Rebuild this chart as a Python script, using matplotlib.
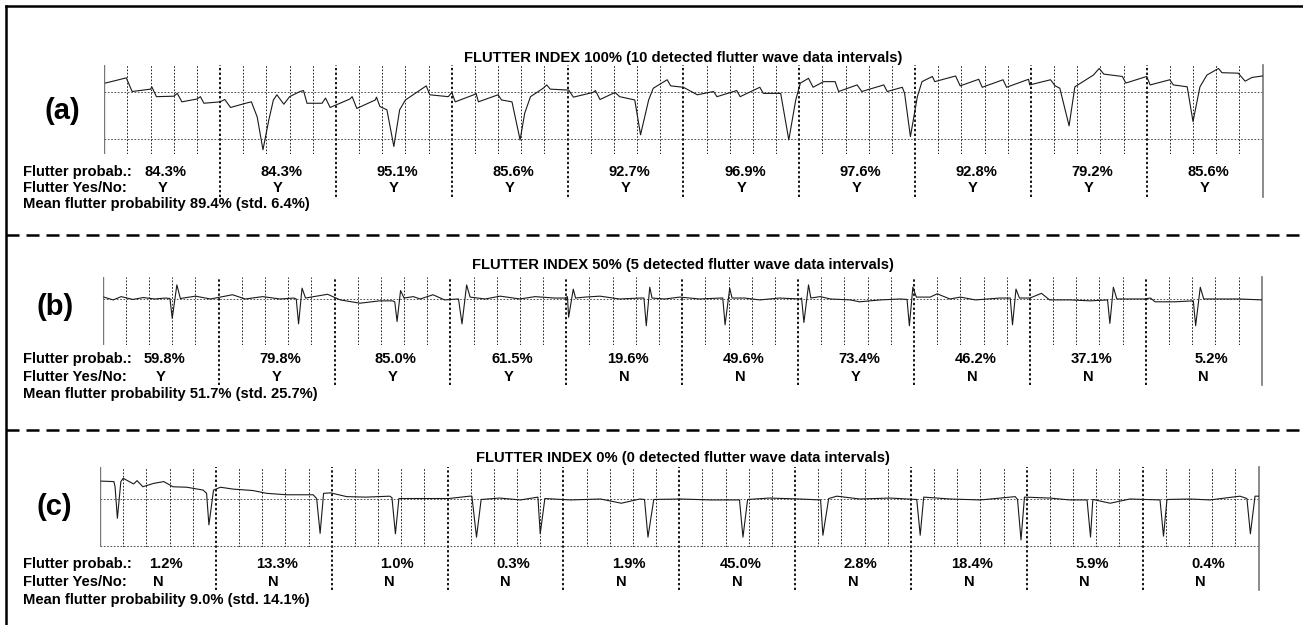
import matplotlib
matplotlib.use("Agg")
import numpy as np
import matplotlib.pyplot as plt
from matplotlib.lines import Line2D
from matplotlib.transforms import blended_transform_factory

plt.rcParams['font.family'] = ['Liberation Sans', 'DejaVu Sans']
plt.rcParams['font.weight'] = 'bold'

# ---- data: (a) flutter index 100% ----
a_time = [0.01, 0.19, 0.24, 0.40, 0.41, 0.45, 0.60, 0.63, 0.67, 0.80, 0.83, 0.86,
          1.00, 1.04, 1.09, 1.22, 1.27, 1.32, 1.37, 1.42, 1.46, 1.49, 1.55, 1.60,
          1.69, 1.72, 1.75, 1.88, 1.91, 1.95, 2.12, 2.14, 2.18, 2.34, 2.35, 2.38,
          2.44, 2.50, 2.55, 2.60, 2.78, 2.81, 2.97, 3.00, 3.03, 3.19, 3.21, 3.23,
          3.40, 3.43, 3.52, 3.59, 3.63, 3.68, 3.79, 3.82, 3.85, 4.01, 4.05, 4.22,
          4.24, 4.28, 4.41, 4.45, 4.58, 4.63, 4.70, 4.74, 4.86, 4.89, 5.00, 5.12,
          5.26, 5.29, 5.46, 5.49, 5.66, 5.69, 5.84, 5.91, 5.97, 6.01, 6.08, 6.12,
          6.21, 6.31, 6.34, 6.50, 6.54, 6.73, 6.76, 6.89, 6.91, 6.96, 7.02, 7.06,
          7.15, 7.17, 7.35, 7.39, 7.55, 7.58, 7.76, 7.79, 7.98, 7.99, 8.17, 8.21,
          8.25, 8.33, 8.38, 8.54, 8.59, 8.63, 8.79, 8.82, 9.00, 9.03, 9.20, 9.23,
          9.35, 9.40, 9.46, 9.52, 9.62, 9.65, 9.79, 9.85, 9.91, 10.0]
a_amp = [0.19, 0.30, 0.01, 0.06, 0.11, -0.10, -0.09, -0.03, -0.21, -0.15, -0.10, -0.24,
         -0.21, -0.16, -0.33, -0.24, -0.21, -0.53, -1.23, -0.60, -0.17, -0.06, -0.26, -0.10,
         0.01, 0.03, -0.24, -0.24, -0.13, -0.33, -0.15, -0.10, -0.35, -0.17, -0.11, -0.31,
         -0.38, -1.16, -0.38, -0.17, 0.13, -0.06, -0.10, -0.01, -0.21, -0.06, -0.03, -0.21,
         -0.06, -0.17, -0.21, -1.02, -0.45, -0.10, 0.08, 0.15, 0.06, 0.04, -0.11, -0.01,
         0.03, -0.16, -0.01, -0.10, -0.17, -0.91, -0.17, 0.08, 0.26, 0.13, 0.10, -0.06,
         0.01, -0.10, 0.03, -0.10, 0.10, -0.03, -0.03, -1.02, -0.17, 0.19, 0.29, 0.10,
         0.22, 0.22, 0.01, 0.15, 0.01, 0.15, 0.01, 0.10, -0.03, -0.95, -0.10, 0.22,
         0.33, 0.22, 0.34, 0.13, 0.27, 0.10, 0.26, 0.10, 0.27, 0.15, 0.26, 0.13,
         0.08, -0.72, 0.11, 0.36, 0.50, 0.38, 0.33, 0.19, 0.33, 0.15, 0.26, 0.15,
         0.11, -0.63, 0.11, 0.36, 0.50, 0.41, 0.40, 0.23, 0.31, 0.34]

# ---- data: (b) flutter index 50% ----
b_time = [0.01, 0.09, 0.16, 0.26, 0.35, 0.45, 0.54, 0.58, 0.60, 0.64, 0.67, 0.80,
          0.93, 1.12, 1.23, 1.38, 1.53, 1.65, 1.67, 1.69, 1.72, 1.75, 1.94, 2.05,
          2.22, 2.39, 2.50, 2.52, 2.54, 2.57, 2.60, 2.68, 2.74, 2.85, 2.95, 3.06,
          3.07, 3.10, 3.14, 3.17, 3.30, 3.43, 3.60, 3.73, 3.90, 3.99, 4.01, 4.02,
          4.06, 4.08, 4.16, 4.29, 4.46, 4.64, 4.67, 4.69, 4.72, 4.74, 4.85, 4.98,
          5.15, 5.33, 5.35, 5.37, 5.41, 5.43, 5.54, 5.67, 5.84, 6.02, 6.03, 6.05,
          6.09, 6.11, 6.19, 6.28, 6.45, 6.53, 6.71, 6.88, 6.94, 6.96, 6.99, 7.02,
          7.14, 7.20, 7.31, 7.40, 7.53, 7.74, 7.83, 7.85, 7.88, 7.91, 8.00, 8.10,
          8.17, 8.35, 8.52, 8.67, 8.69, 8.72, 8.75, 8.86, 8.99, 9.04, 9.08, 9.25,
          9.41, 9.43, 9.47, 9.50, 9.64, 9.81, 10.0]
b_amp = [0.04, -0.02, 0.05, -0.01, 0.03, 0.00, 0.02, 0.01, -0.41, 0.30, 0.01, 0.06,
         0.00, 0.09, 0.00, 0.05, 0.00, 0.02, 0.00, -0.53, 0.23, 0.02, 0.10, -0.02,
         -0.09, -0.04, -0.04, -0.06, -0.48, 0.18, 0.02, 0.05, 0.00, 0.09, -0.02, 0.00,
         0.00, -0.53, 0.30, 0.04, 0.00, 0.06, 0.00, 0.05, 0.02, 0.02, 0.05, -0.39,
         0.21, 0.02, 0.04, 0.06, 0.00, 0.02, 0.02, -0.57, 0.25, 0.02, 0.00, 0.04,
         0.00, 0.02, 0.02, -0.55, 0.23, 0.02, 0.02, -0.02, 0.02, 0.00, 0.02, -0.50,
         0.30, 0.02, 0.05, 0.00, -0.02, -0.06, -0.02, 0.00, -0.01, -0.57, 0.25, 0.04,
         0.04, 0.11, 0.00, 0.04, -0.02, 0.02, 0.02, -0.55, 0.21, 0.02, 0.02, 0.12,
         -0.02, -0.02, -0.04, -0.02, -0.52, 0.25, 0.00, 0.00, 0.00, 0.02, -0.06, -0.06,
         -0.04, -0.57, 0.25, 0.00, 0.00, 0.00, -0.02]

# ---- data: (c) flutter index 0% ----
c_time = [0.01, 0.12, 0.13, 0.15, 0.18, 0.20, 0.29, 0.32, 0.37, 0.46, 0.55, 0.63,
          0.75, 0.89, 0.92, 0.94, 0.98, 1.04, 1.15, 1.32, 1.44, 1.61, 1.84, 1.87,
          1.90, 1.93, 1.99, 2.13, 2.30, 2.50, 2.52, 2.55, 2.58, 2.73, 3.01, 3.19,
          3.21, 3.25, 3.29, 3.45, 3.63, 3.78, 3.80, 3.84, 4.06, 4.32, 4.50, 4.66,
          4.70, 4.73, 4.78, 5.01, 5.27, 5.52, 5.55, 5.59, 5.78, 6.04, 6.22, 6.24,
          6.29, 6.36, 6.56, 6.82, 7.05, 7.08, 7.11, 7.34, 7.60, 7.90, 7.92, 7.95,
          7.98, 8.20, 8.37, 8.52, 8.55, 8.57, 8.72, 8.89, 9.15, 9.18, 9.21, 9.41,
          9.58, 9.84, 9.90, 9.93, 9.97, 10.0]
c_amp = [0.38, 0.37, 0.26, -0.41, 0.37, 0.44, 0.32, 0.39, 0.26, 0.33, 0.37, 0.26,
         0.25, 0.19, 0.12, -0.55, 0.19, 0.25, 0.21, 0.18, 0.12, 0.09, 0.09, 0.01,
         -0.73, 0.12, 0.13, 0.05, 0.04, 0.06, 0.03, -0.74, 0.01, 0.01, 0.01, 0.06,
         0.06, -0.81, -0.01, 0.02, -0.02, 0.04, -0.74, 0.01, -0.02, 0.00, -0.09, 0.00,
         -0.01, -0.81, -0.01, 0.00, -0.02, -0.02, -0.81, -0.01, 0.02, 0.00, -0.02, -0.77,
         0.01, 0.06, 0.00, 0.02, -0.01, -0.77, 0.04, 0.00, -0.02, 0.05, -0.01, -0.87,
         0.04, 0.02, -0.02, -0.02, -0.81, -0.01, -0.09, 0.00, -0.02, -0.79, -0.01, 0.00,
         -0.02, 0.06, 0.01, -0.74, 0.06, 0.06]

a_prob = [84.3, 84.3, 95.1, 85.6, 92.7, 96.9, 97.6, 92.8, 79.2, 85.6]
b_prob = [59.8, 79.8, 85.0, 61.5, 19.6, 49.6, 73.4, 46.2, 37.1, 5.2]
c_prob = [1.2, 13.3, 1.0, 0.3, 1.9, 45.0, 2.8, 18.4, 5.9, 0.4]
a_flag = ['Y', 'Y', 'Y', 'Y', 'Y', 'Y', 'Y', 'Y', 'Y', 'Y']
b_flag = ['Y', 'Y', 'Y', 'Y', 'N', 'N', 'Y', 'N', 'N', 'N']
c_flag = ['N', 'N', 'N', 'N', 'N', 'N', 'N', 'N', 'N', 'N']
a_mean, a_std = 89.4, 6.4
b_mean, b_std = 51.7, 25.7
c_mean, c_std = 9.0, 14.1
titles = ['FLUTTER INDEX 100% (10 detected flutter wave data intervals)',
          'FLUTTER INDEX 50% (5 detected flutter wave data intervals)',
          'FLUTTER INDEX 0% (0 detected flutter wave data intervals)']
letters = ['(a)', '(b)', '(c)']

W, H = 1303, 625
fig = plt.figure(figsize=(W / 100, H / 100), dpi=100)


def fx(px):
    return px / W


def fy(py):
    return 1 - py / H


def draw_panel(k, time, amp, probs, flags, mean, std, box, ylim, hlines,
               major_end, rows, title_y, letter_xy):
    left, top, right, bottom = box
    ax = fig.add_axes([fx(left), fy(bottom), fx(right - left), (bottom - top) / H])
    ax.set_xlim(0, 10)
    ax.set_ylim(*ylim)
    ax.axis('off')
    # grid: 0.2 s minor, 1 s major
    for t in np.arange(1, 50) / 5:
        if abs(t - round(t)) < 1e-6:
            continue
        ax.axvline(t, color='k', lw=0.6, ls=(0, (2, 2)))
    ext = -(major_end - bottom) / (bottom - top)
    for t in range(1, 10):
        ax.axvline(t, ymin=ext, ymax=1, color='k', lw=1.3, ls=(0, (1.3, 1.3)),
                   clip_on=False)
    for h in hlines:
        ax.axhline(h, color='#333333', lw=0.6, ls=(0, (2, 2)))
    ax.axvline(0, color='#777777', lw=1.0)
    ax.axvline(10, ymin=ext, ymax=1, color='#777777', lw=1.2, clip_on=False)
    ax.plot(time, amp, color='#1a1a1a', lw=0.8)

    tr = blended_transform_factory(ax.transData, fig.transFigure)
    fs = 10.6
    fig.text(fx(23), fy(rows[0]), 'Flutter probab.:', fontsize=fs, va='center')
    fig.text(fx(23), fy(rows[1]), 'Flutter Yes/No:', fontsize=fs, va='center')
    fig.text(fx(23), fy(rows[2]),
             'Mean flutter probability %.1f%% (std. %.1f%%)' % (mean, std),
             fontsize=fs, va='center')
    for i, (p, f) in enumerate(zip(probs, flags)):
        ax.text(i + 0.71, fy(rows[0]), '%.1f%%' % p, transform=tr, ha='right',
                va='center', fontsize=fs)
        ax.text(i + 0.5, fy(rows[1]), f, transform=tr, ha='center',
                va='center', fontsize=fs)
    fig.text(fx(683), fy(title_y), titles[k], ha='center', va='center', fontsize=fs)
    fig.text(fx(letter_xy[0]), fy(letter_xy[1]), letters[k], ha='center',
             va='center', fontsize=21)


draw_panel(0, a_time, a_amp, a_prob, a_flag, a_mean, a_std,
           (104.3, 65, 1262.5, 154), (-1.32, 0.574), [0, -1], 197,
           (172, 188, 204), 58, (62, 111))
draw_panel(1, b_time, b_amp, b_prob, b_flag, b_mean, b_std,
           (102.7, 277, 1261.7, 345), (-0.98, 0.468), [0], 385,
           (359, 377, 394), 265, (55, 307))
draw_panel(2, c_time, c_amp, c_prob, c_flag, c_mean, c_std,
           (100, 467, 1258.5, 547), (-1.02, 0.68), [0, -1.0], 590,
           (564, 582, 600), 458, (54, 507))

# frame and separators
fig.add_artist(Line2D([fx(6), fx(6)], [0, fy(6)], color='k', lw=1.8))
fig.add_artist(Line2D([fx(6), 1], [fy(6), fy(6)], color='k', lw=1.8))
for y in (235, 430):
    fig.add_artist(Line2D([fx(6), 1], [fy(y), fy(y)], color='k', lw=1.8,
                          ls=(0, (5.2, 2.8))))

fig.savefig('out.png', dpi=100, facecolor='white')
